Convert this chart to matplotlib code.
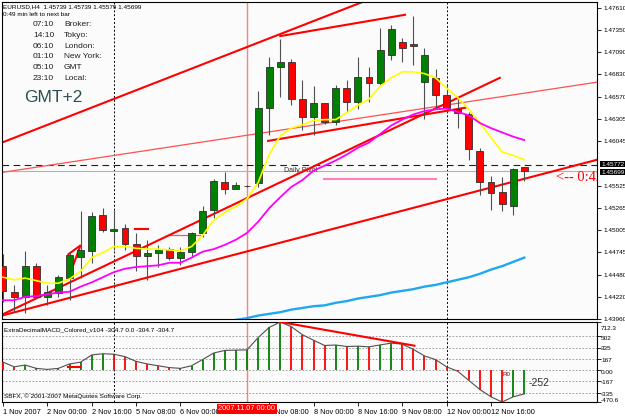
import matplotlib.pyplot as plt
import numpy as np

plt.rcParams['font.family'] = ['Liberation Sans', 'DejaVu Sans']

# EURUSD H4, 1 Nov 2007 08:00 .. 12 Nov 2007 16:00 (48 bars)
bar_open = [1.4458, 1.4428, 1.4422, 1.4458, 1.4422, 1.4427, 1.4444, 1.4469, 1.4476, 1.4518,
            1.4499, 1.4503, 1.4484, 1.4470, 1.4474, 1.4478, 1.4467, 1.4475, 1.4497, 1.4524,
            1.4557, 1.4549, 1.4552, 1.4556, 1.4644, 1.4692, 1.4698, 1.4654, 1.4633, 1.4649,
            1.4627, 1.4667, 1.4651, 1.4680, 1.4673, 1.4706, 1.4721, 1.4719, 1.4674, 1.4679,
            1.4659, 1.4643, 1.4637, 1.4593, 1.4557, 1.4545, 1.4529, 1.45739]
bar_high = [1.4472, 1.4436, 1.4476, 1.4462, 1.4436, 1.4448, 1.4475, 1.4523, 1.4521, 1.4526,
            1.4524, 1.4508, 1.4497, 1.4489, 1.4483, 1.4481, 1.4481, 1.4498, 1.4529, 1.4560,
            1.4568, 1.4557, 1.4553, 1.4664, 1.4703, 1.4724, 1.4701, 1.4677, 1.4669, 1.4650,
            1.4671, 1.4677, 1.4703, 1.4692, 1.4738, 1.4741, 1.4726, 1.4751, 1.4714, 1.4689,
            1.4671, 1.4656, 1.4639, 1.4597, 1.4564, 1.4563, 1.4573, 1.45739]
bar_low = [1.4416, 1.4404, 1.4403, 1.4421, 1.4412, 1.4422, 1.4418, 1.4444, 1.4462, 1.4498,
           1.4477, 1.4477, 1.4452, 1.4442, 1.4457, 1.4465, 1.4459, 1.4469, 1.4492, 1.4515,
           1.4543, 1.4548, 1.4551, 1.4551, 1.4612, 1.4657, 1.4647, 1.4618, 1.4612, 1.4625,
           1.4624, 1.4639, 1.4642, 1.4651, 1.4671, 1.4700, 1.4698, 1.4694, 1.4631, 1.4642,
           1.4639, 1.4620, 1.4583, 1.4542, 1.4524, 1.4523, 1.4518, 1.45579]
bar_close = [1.4429, 1.4422, 1.4458, 1.4422, 1.4428, 1.4445, 1.4471, 1.4477, 1.4517, 1.4501,
             1.4502, 1.4484, 1.4470, 1.4474, 1.4478, 1.4467, 1.4475, 1.4497, 1.4523, 1.4558,
             1.4549, 1.4553, 1.4552, 1.4644, 1.4692, 1.4698, 1.4654, 1.4633, 1.4649, 1.4627,
             1.4667, 1.4651, 1.4680, 1.4673, 1.4712, 1.4736, 1.4714, 1.4716, 1.4706, 1.4659,
             1.4644, 1.4638, 1.4595, 1.4557, 1.4544, 1.4531, 1.4572, 1.45699]

ma_yellow = [1.4445, 1.4442, 1.4444, 1.4441, 1.4438, 1.4438, 1.4443, 1.4452, 1.4468, 1.4474,
             1.4481, 1.4481, 1.4479, 1.4478, 1.4478, 1.4477, 1.4476, 1.4481, 1.4494, 1.4512,
             1.4521, 1.4528, 1.4537, 1.4556, 1.4589, 1.4611, 1.4620, 1.4624, 1.4629, 1.4630,
             1.4630, 1.4638, 1.4647, 1.4654, 1.4669, 1.4679, 1.4686, 1.4686, 1.4684, 1.4679,
             1.4667, 1.4656, 1.4642, 1.4626, 1.4609, 1.4592, 1.4588, 1.4583]
ma_magenta = [1.4418, 1.4418, 1.4422, 1.4423, 1.4425, 1.4427, 1.4428, 1.4434, 1.4439, 1.4445,
              1.4451, 1.4455, 1.4457, 1.4458, 1.4459, 1.4462, 1.4462, 1.4468, 1.4475, 1.4478,
              1.4483, 1.4489, 1.4497, 1.4510, 1.4526, 1.4539, 1.4551, 1.4559, 1.4570, 1.4576,
              1.4582, 1.4589, 1.4597, 1.4603, 1.4613, 1.4623, 1.4630, 1.4636, 1.4640, 1.4642,
              1.4643, 1.4639, 1.4635, 1.4626, 1.4620, 1.4615, 1.4610, 1.4606]
ma_blue_start = 20
ma_blue = [1.4392, 1.4395, 1.4397, 1.4400, 1.4402, 1.4404, 1.4407, 1.4409, 1.4411, 1.4412,
           1.4415, 1.4417, 1.4420, 1.4422, 1.4424, 1.4427, 1.4429, 1.4431, 1.4434, 1.4436,
           1.4439, 1.4442, 1.4445, 1.4449, 1.4454, 1.4458, 1.4463, 1.4468]

macd = [119, 49, 76, 27, 11, 27, 92, 119, 225, 243,
        236, 200, 130, 92, 65, 38, 27, 65, 157, 254,
        292, 297, 300, 481, 632, 712.3, 643, 524, 443, 365,
        372, 350, 355, 345, 373, 400, 385, 308, 211, 157,
        49, -16, -151, -286, -394, -470.6, -394, -351]

# trend line objects: (bar, price) -> (bar, price)
thick_lines = [((-0.1, 1.4603), (33.0, 1.4771)),
               ((25.0, 1.4728), (36.25, 1.4753)),
               ((-0.1, 1.4400), (53.6, 1.4583)),
               ((-0.1, 1.4401), (44.8, 1.4679)),
               ((23.9, 1.4605), (41.7, 1.4644)),
               ((5.9, 1.4444), (6.95, 1.4481)),
               ((5.9, 1.4472), (6.95, 1.4482)),
               ((11.9, 1.4502), (13.1, 1.4502))]
thin_lines = [((-0.1, 1.4568), (53.6, 1.4674)),
              ((15.1, 1.4494), (17.8, 1.4494))]
pink_level = ((28.9, 39.0), 1.4560)
macd_div = ((25, 712.3), (37.1, 362))

ask_price = 1.45772
bid_price = 1.45699
cursor_bar = 22
separators = [10, 40]

price_ticks = [1.47610, 1.47350, 1.47090, 1.46830, 1.46570, 1.46305, 1.46045,
               1.45525, 1.45265, 1.45005, 1.44745, 1.44480, 1.44220, 1.43960]
macd_ticks = [712.3, 502, 335, 167, 0, -167, -335, -470.6]
macd_tick_labels = ['712.3', '502', '335', '167', '0.00', '-167', '-335', '-470.6']
macd_label_rows = [328, 338, 349, 361, 372, 383, 394, 400]
macd_levels = [502, 335, 167, 0, -167, -335]
date_bars = [0, 4, 8, 12, 16, 24, 28, 32, 36, 40, 44]
date_labels = ['1 Nov 2007', '2 Nov 00:00', '2 Nov 16:00', '5 Nov 08:00', '6 Nov 00:00',
               '7 Nov 08:00', '8 Nov 00:00', '8 Nov 16:00', '9 Nov 08:00', '12 Nov 00:00',
               '12 Nov 16:00']
clock_times = ['07:10', '14:10', '06:10', '01:10', '05:10', '23:10']
clock_names = ['Broker:', 'Tokyo:', 'London:', 'New York:', 'GMT', 'Local:']

W, H = 625, 417
fig = plt.figure(figsize=(6.25, 4.17), dpi=100)
fig.patch.set_facecolor('white')


def fx(px):
    return px / W


def fy(py):
    return 1 - py / H


ax = fig.add_axes([fx(2), fy(319), fx(595), 317 / H])
ax2 = fig.add_axes([fx(2), fy(402), fx(595), 80 / H])
for a in (ax, ax2):
    a.set_facecolor('#fbfbfb')
    for s in a.spines.values():
        s.set_color('black')
        s.set_linewidth(0.8)
    a.set_xlim(-0.09, 53.56)

x = np.arange(len(bar_open))
o = np.array(bar_open)
c = np.array(bar_close)
up = c >= o

# separators and cursor
for sb in separators:
    ax.axvline(sb, color='black', ls=(0, (2, 2)), lw=0.7, zorder=1)
    ax2.axvline(sb, color='black', ls=(0, (2, 2)), lw=0.7, zorder=1)
ax.axvline(cursor_bar, color='#ff8080', lw=1.0, zorder=1)
ax2.axvline(cursor_bar, color='#ff8080', lw=1.0, zorder=1)

ax.axhline(ask_price, color='#202020', ls=(0, (6, 4)), lw=0.8, zorder=1)
ax.axhline(bid_price, color='#a8b8a8', lw=0.8, zorder=1)
ax.text(25.3, 1.4570, 'Daily Pivot', fontsize=5, color='#303030', va='center', zorder=2)

# trend lines
for (x0, y0), (x1, y1) in thin_lines:
    ax.plot([x0, x1], [y0, y1], color='#ff5050', lw=0.9, zorder=2)
for (x0, y0), (x1, y1) in thick_lines:
    ax.plot([x0, x1], [y0, y1], color='red', lw=1.5, zorder=2)
ax.plot(pink_level[0], [pink_level[1]] * 2, color='#ff7fbf', lw=1.5, zorder=2)

# moving averages
ax.plot(x, ma_yellow, color='yellow', lw=1.2, zorder=4)
ax.plot(x, ma_magenta, color='magenta', lw=1.3, zorder=4)
ax.plot(np.arange(ma_blue_start, ma_blue_start + len(ma_blue)), ma_blue,
        color='#1ea8f0', lw=1.7, zorder=4)

# candles
ax.vlines(x, bar_low, bar_high, color='#505050', lw=0.8, zorder=3)
ax.bar(x, np.abs(c - o), bottom=np.minimum(o, c), width=0.62,
       color=np.where(up, '#008000', '#ff0000'), edgecolor='#303030', lw=0.6, zorder=3)

ax.set_ylim(1.4396, 1.4768)
ax.set_xticks([])
ax.yaxis.tick_right()
ax.set_yticks(price_ticks)
ax.set_yticklabels(['%.5f' % p for p in price_ticks])
ax.tick_params(axis='y', length=3, width=0.6, pad=1.5, labelsize=4.6)

ax.text(49.9, 1.4562, '<-- 0:42', color='red', fontsize=10.5, va='center',
        family=['Liberation Serif', 'DejaVu Serif'], clip_on=True, zorder=5)

# MACD panel
mv = np.array(macd)
rising = np.r_[False, mv[1:] >= mv[:-1]]
ax2.vlines(x, 0, mv, colors=np.where(rising, '#008000', '#ff0000'), lw=1.3, zorder=3)
ax2.plot(x, mv, color='#505050', lw=0.8, zorder=4)
for lv in macd_levels:
    ax2.axhline(lv, color='#909090', ls=(0, (2, 2)), lw=0.6, zorder=1)
ax2.plot([macd_div[0][0], macd_div[1][0]], [macd_div[0][1], macd_div[1][1]],
         color='red', lw=1.5, zorder=5)
ax2.plot([5.9, 6.95], [50, 50], color='red', lw=1.5, zorder=5)
ax2.text(45.4, -70, 'R0', fontsize=4.5, color='#800000', ha='center', va='center', zorder=5)
ax2.set_ylim(-470.6, 712.3)
ax2.yaxis.tick_right()
ax2.set_yticks(macd_ticks)
ax2.set_yticklabels([])
ax2.tick_params(axis='y', length=3, width=0.6)
for lab, row in zip(macd_tick_labels, macd_label_rows):
    fig.text(fx(601), fy(row), lab, fontsize=4.6, va='center')
ax2.set_xticks(date_bars)
ax2.set_xticklabels(date_labels)
ax2.tick_params(axis='x', length=3, width=0.6, pad=2, labelsize=5.3)
for lab in ax2.get_xticklabels():
    lab.set_ha('left')

# texts
fig.text(fx(3), fy(7), 'EURUSD,H4  1.45739 1.45739 1.45579 1.45699', fontsize=4.6, va='center')
fig.text(fx(3), fy(15), '0:49 min left to next bar', fontsize=4.6, va='center')
for k, (t, n) in enumerate(zip(clock_times, clock_names)):
    yy = 25 + k * 10.6
    fig.text(fx(33), fy(yy), t, fontsize=6, va='center', color='#202020')
    fig.text(fx(64), fy(yy), n, fontsize=6, va='center', color='#202020')
fig.text(fx(24), fy(97), 'GMT+2', fontsize=12.5, va='center', color='#2f4f4f')

fig.text(fx(4), fy(330), 'ExtraDecimalMACD_Colored_v104 -304.7 0.0 -304.7 -304.7',
         fontsize=4.6, va='center')
fig.text(fx(4), fy(396), 'SBFX, \u00a9 2001-2007 MetaQuotes Software Corp.', fontsize=4.6, va='center')
fig.text(fx(529), fy(383), '-252', fontsize=7.5, va='center', color='#303030')

box = dict(boxstyle='square,pad=0.15', lw=0)
fig.text(fx(601), fy(164), '1.45772', fontsize=4.6, va='center', color='white',
         bbox=dict(box, facecolor='black'), zorder=10)
fig.text(fx(601), fy(172), '1.45699', fontsize=4.6, va='center', color='white',
         bbox=dict(box, facecolor='black'), zorder=10)
fig.text(fx(247), fy(409), '2007.11.07 00:00', fontsize=5.3, va='center', ha='center',
         color='white', bbox=dict(box, facecolor='red'), zorder=10)

fig.savefig('out.png', dpi=100)
